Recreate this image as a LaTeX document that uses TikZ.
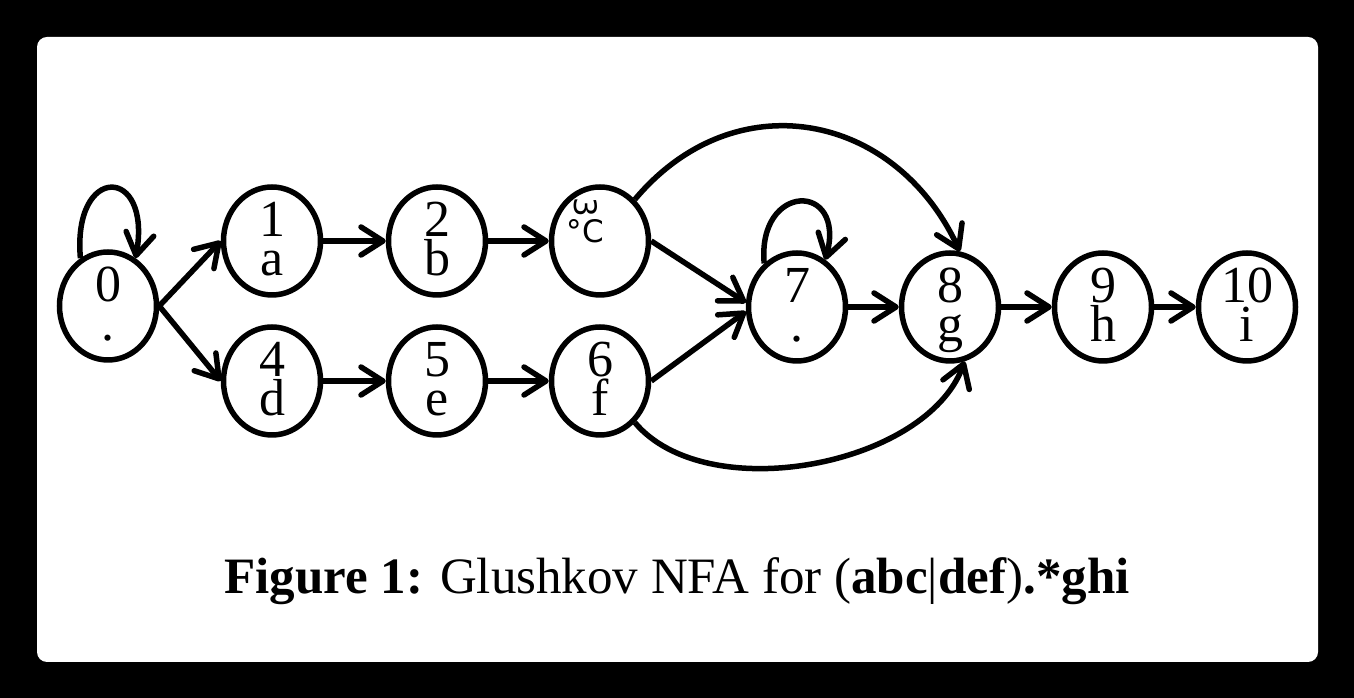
\documentclass[tikz,border=0pt]{standalone}
\usepackage{fontspec}
\setmainfont{Liberation Serif}
\newfontfamily\degfont{DejaVu Sans}
\usetikzlibrary{arrows.meta,shapes.geometric}

% two lines of a state: position number over symbol
\newcommand\st[2]{\smash{\makebox[0pt]{\raisebox{4pt}{\smash{\makebox[0pt]{#1}}}\raisebox{-35pt}{\smash{\makebox[0pt]{#2}}}}}}

\tikzset{
  state/.style={ellipse, draw, line width=5.5pt, minimum width=97pt, minimum height=108pt,
    inner sep=0pt, font=\fontsize{52}{52}\selectfont},
  trans/.style={line width=5.5pt, -{Straight Barb[length=22pt,width=28pt,round]}},
}

\begin{document}
\begin{tikzpicture}[x=1pt,y=1pt]
  \useasboundingbox (0,0) rectangle (1354,698);

  \fill[black] (0,0) rectangle (1354,698); %A: Frame
  \fill[white, rounded corners=10pt] (37,36) rectangle (1318,661);

  \node[state] (s0) at (108,392) {\st{0}{.}};
  \node[state] (s1) at (272,457) {\st{1}{a}};
  \node[state] (s2) at (437,457) {\st{2}{b}};
  \node[state] (s3) at (600,457) {\smash{\makebox[0pt][r]{\raisebox{-2pt}{\smash{\degfont\fontsize{31}{31}\selectfont
    \shortstack{\rotatebox{-90}{3}\\\textdegree C}}}\hspace*{-4pt}}}};
  \node[state] (s4) at (272,317) {\st{4}{d}};
  \node[state] (s5) at (437,317) {\st{5}{e}};
  \node[state] (s6) at (600,317) {\st{6}{f}};
  \node[state] (s7) at (797,391) {\st{7}{.}};
  \node[state] (s8) at (950,391) {\st{8}{g}};
  \node[state] (s9) at (1103,391) {\st{9}{h}};
  \node[state] (s10) at (1247,391) {\st{10}{i}};

  \draw[trans] (s0.120) to[out=95,in=80,looseness=4.4] (s0.60); %A: Loops
  \draw[trans] (s7.127) to[out=95,in=75,looseness=3.4] (s7.59);

  \draw[trans] (s0.east) -- (s1.west);
  \draw[trans] (s0.east) -- (s4.west);
  \draw[trans] (s1) -- (s2);
  \draw[trans] (s2) -- (s3);
  \draw[trans] (s4) -- (s5);
  \draw[trans] (s5) -- (s6);
  \draw[trans] (s3.east) -- (s7.175);
  \draw[trans] (s6.east) -- (s7.185);
  \draw[trans] (s7) -- (s8);
  \draw[trans] (s8) -- (s9);
  \draw[trans] (s9) -- (s10);
  \draw[trans] (s3.50) to[out=50,in=115,looseness=1.2] (s8.80);
  \draw[trans] (s6.-50) to[out=-50,in=-110,looseness=0.85] (s8.-75);

  \node[anchor=base, font=\fontsize{51}{51}\selectfont] (cap) at (677,104)
    {\textbf{Figure 1:} Glushkov NFA for (\textbf{abc}|\textbf{def})\textbf{.*ghi}};
\end{tikzpicture}
\end{document}
